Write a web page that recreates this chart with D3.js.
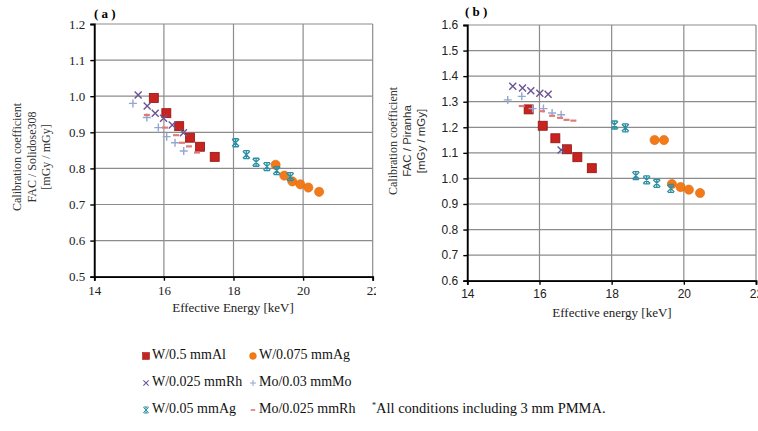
<!DOCTYPE html>
<html>
<head>
<meta charset="utf-8">
<script src="https://cdn.jsdelivr.net/npm/d3@7"></script>
<style>
  body { margin: 0; background: #fff; }
  svg { display: block; }
</style>
</head>
<body>
<div id="chart"></div>
<script>
// ---- data: [effective energy keV, calibration coefficient] ----
// panel (a): FAC / Solidose308
var alA   = [[15.71, 0.995], [16.07, 0.953], [16.44, 0.917], [16.75, 0.885], [17.04, 0.860], [17.46, 0.832]];
var agA   = [[19.21, 0.810], [19.46, 0.780], [19.69, 0.764], [19.92, 0.756], [20.15, 0.747], [20.46, 0.735]];
var rhA   = [[15.26, 1.003], [15.52, 0.973], [15.75, 0.953], [15.99, 0.939], [16.24, 0.920], [16.56, 0.899]];
var moA   = [[15.11, 0.980], [15.51, 0.941], [15.84, 0.913], [16.08, 0.888], [16.32, 0.871], [16.57, 0.848]];
var ag05A = [[18.06, 0.871], [18.37, 0.838], [18.65, 0.817], [18.96, 0.805], [19.24, 0.794], [19.63, 0.777]];
var moRhA = [[15.51, 0.948], [16.03, 0.913], [16.35, 0.892], [16.52, 0.871], [16.72, 0.861], [16.95, 0.844]];

// panel (b): FAC / Piranha
var alB   = [[15.70, 1.270], [16.09, 1.206], [16.44, 1.157], [16.76, 1.114], [17.05, 1.083], [17.45, 1.040]];
var agB   = [[19.19, 1.150], [19.45, 1.150], [19.67, 0.978], [19.91, 0.966], [20.14, 0.956], [20.45, 0.943]];
var rhB   = [[15.26, 1.360], [15.53, 1.354], [15.76, 1.343], [16.01, 1.333], [16.24, 1.329], [16.60, 1.111]];
var moB   = [[15.12, 1.307], [15.51, 1.321], [15.81, 1.273], [16.11, 1.273], [16.35, 1.256], [16.60, 1.249]];
var ag05B = [[18.08, 1.209], [18.38, 1.198], [18.67, 1.011], [18.97, 0.994], [19.25, 0.981], [19.64, 0.961]];
var moRhB = [[15.51, 1.283], [16.07, 1.263], [16.35, 1.245], [16.57, 1.237], [16.75, 1.229], [16.94, 1.226]];

var xTicks  = [14, 16, 18, 20, 22];
var yTicksA = [0.5, 0.6, 0.7, 0.8, 0.9, 1.0, 1.1, 1.2];
var yTicksB = [0.6, 0.7, 0.8, 0.9, 1.0, 1.1, 1.2, 1.3, 1.4, 1.5, 1.6];

var legendNames = ["W/0.5 mmAl", "W/0.075 mmAg", "W/0.025 mmRh", "Mo/0.03 mmMo", "W/0.05 mmAg", "Mo/0.025 mmRh"];
var seriesKeys  = ["al", "ag", "rh", "mo", "ag05", "moRh"];

var serif = "'Liberation Serif', 'DejaVu Serif', serif";
var sans = "'Liberation Sans', Arial, sans-serif";

var svg = d3.select("#chart").append("svg")
  .attr("width", 758).attr("height", 431);

var defs = svg.append("defs");
defs.append("clipPath").attr("id", "clipA")
  .append("rect").attr("x", 0).attr("y", 0).attr("width", 376).attr("height", 431);

// marker drawing, one per series type
function drawMarker(g, key, x, y) {
  if (key === "al") {
    g.append("rect").attr("x", x - 4.5).attr("y", y - 4.5).attr("width", 9).attr("height", 9)
      .attr("fill", "#c8231f").attr("stroke", "#8e1512").attr("stroke-width", 0.8);
  } else if (key === "ag") {
    g.append("circle").attr("cx", x).attr("cy", y).attr("r", 4.6)
      .attr("fill", "#f27a18").attr("stroke", "#e06a0c").attr("stroke-width", 0.6);
  } else if (key === "rh") {
    g.append("path").attr("d", "M" + (x - 3.5) + "," + (y - 3.5) + "L" + (x + 3.5) + "," + (y + 3.5) +
      "M" + (x - 3.5) + "," + (y + 3.5) + "L" + (x + 3.5) + "," + (y - 3.5))
      .attr("stroke", "#6a5494").attr("stroke-width", 1.4).attr("fill", "none");
  } else if (key === "mo") {
    g.append("path").attr("d", "M" + (x - 4) + "," + y + "L" + (x + 4) + "," + y +
      "M" + x + "," + (y - 4) + "L" + x + "," + (y + 4))
      .attr("stroke", "#92a8d0").attr("stroke-width", 1.4).attr("fill", "none");
  } else if (key === "ag05") {
    g.append("path").attr("d", "M" + (x - 3.5) + "," + (y - 3.5) + "L" + (x + 3.5) + "," + (y + 3.5) +
      "M" + (x - 3.5) + "," + (y + 3.5) + "L" + (x + 3.5) + "," + (y - 3.5) +
      "M" + x + "," + (y - 4) + "L" + x + "," + (y + 4) +
      "M" + (x - 3) + "," + (y - 4) + "L" + (x + 3) + "," + (y - 4) +
      "M" + (x - 3) + "," + (y + 4) + "L" + (x + 3) + "," + (y + 4))
      .attr("stroke", "#2a8fa3").attr("stroke-width", 1.3).attr("fill", "none");
  } else if (key === "moRh") {
    g.append("path").attr("d", "M" + (x - 3) + "," + y + "L" + (x + 3) + "," + y)
      .attr("stroke", "#e07a7a").attr("stroke-width", 2.2).attr("fill", "none");
  }
}

function drawPanel(opt) {
  var g = svg.append("g");
  if (opt.clip) g.attr("clip-path", "url(#" + opt.clip + ")");

  var x = d3.scaleLinear().domain([14, 22]).range(opt.xRange);
  var y = d3.scaleLinear().domain(opt.yDomain).range(opt.yRange);

  // gridlines
  g.append("g").selectAll("line").data(opt.yTicks).enter().append("line")
    .attr("x1", x(14)).attr("x2", x(22))
    .attr("y1", function(d) { return y(d); }).attr("y2", function(d) { return y(d); })
    .attr("stroke", "#8c8c8c").attr("stroke-width", 1.2);
  g.append("g").selectAll("line").data(xTicks).enter().append("line")
    .attr("x1", function(d) { return x(d); }).attr("x2", function(d) { return x(d); })
    .attr("y1", y(opt.yDomain[0])).attr("y2", y(opt.yDomain[1]))
    .attr("stroke", "#8c8c8c").attr("stroke-width", 1.2);

  // axes
  var yAxis = g.append("g").attr("transform", "translate(" + x(14) + ",0)")
    .call(d3.axisLeft(y).tickValues(opt.yTicks).tickSize(4).tickPadding(5).tickFormat(d3.format(".1f")));
  var xAxis = g.append("g").attr("transform", "translate(0," + y(opt.yDomain[0]) + ")")
    .call(d3.axisBottom(x).tickValues(xTicks).tickSize(4).tickPadding(5).tickFormat(d3.format("d")));
  [yAxis, xAxis].forEach(function(a) {
    a.select(".domain").attr("stroke", "#000").attr("stroke-width", 1.8);
    a.selectAll(".tick line").attr("stroke", "#000").attr("stroke-width", 1.4);
    a.selectAll(".tick text").attr("fill", "#222")
      .style("font-family", opt.tickFont).style("font-size", opt.tickSize + "px");
  });

  // points
  var pts = g.append("g");
  seriesKeys.forEach(function(k) {
    opt.data[k].forEach(function(d) {
      drawMarker(pts, k, x(d[0]), y(d[1]));
    });
  });

  // x title
  g.append("text").attr("x", opt.xTitlePos[0]).attr("y", opt.xTitlePos[1])
    .attr("text-anchor", "middle").attr("dominant-baseline", "middle")
    .style("font-family", serif).style("font-size", "13px").attr("fill", "#222")
    .text(opt.xTitle);

  // y title, three rotated lines
  opt.yTitle.forEach(function(t, i) {
    g.append("text")
      .attr("transform", "translate(" + opt.yTitleX[i] + "," + opt.yTitleY + ") rotate(-90)")
      .attr("text-anchor", "middle").attr("dominant-baseline", "middle")
      .style("font-family", t.font).style("font-size", t.size + "px").attr("fill", "#333")
      .text(t.text);
  });

  // panel label
  g.append("text").attr("x", opt.labelPos[0]).attr("y", opt.labelPos[1])
    .attr("dominant-baseline", "middle")
    .style("font-family", serif).style("font-size", "13px").style("font-weight", "bold")
    .text(opt.label);
}

drawPanel({
  clip: "clipA",
  xRange: [94.3, 372.7], yDomain: [0.5, 1.2], yRange: [276.7, 24],
  yTicks: yTicksA, tickFont: serif, tickSize: 13,
  data: { al: alA, ag: agA, rh: rhA, mo: moA, ag05: ag05A, moRh: moRhA },
  xTitle: "Effective Energy [keV]", xTitlePos: [233, 309],
  yTitle: [
    { text: "Calibration coefficient", font: serif, size: 12 },
    { text: "FAC / Solidose308", font: serif, size: 12 },
    { text: "[mGy / mGy]", font: serif, size: 12 }
  ],
  yTitleX: [18, 33, 47], yTitleY: 157,
  label: "( a )", labelPos: [94, 15]
});

drawPanel({
  xRange: [467.3, 756], yDomain: [0.6, 1.6], yRange: [280.7, 25],
  yTicks: yTicksB, tickFont: sans, tickSize: 12,
  data: { al: alB, ag: agB, rh: rhB, mo: moB, ag05: ag05B, moRh: moRhB },
  xTitle: "Effective energy [keV]", xTitlePos: [612, 314],
  yTitle: [
    { text: "Calibration coefficient", font: serif, size: 12 },
    { text: "FAC / Piranha", font: sans, size: 11.5 },
    { text: "[mGy / mGy]", font: sans, size: 11.5 }
  ],
  yTitleX: [394, 408, 422], yTitleY: 141,
  label: "( b )", labelPos: [465, 13]
});

// ---- legend ----
var legend = svg.append("g");
var legX = [146, 253];
var legY = [356, 383, 410];
legendNames.forEach(function(name, i) {
  var cx = legX[i % 2], cy = legY[Math.floor(i / 2)];
  var item = legend.append("g");
  var k = seriesKeys[i];
  // legend markers are drawn smaller than in the plot
  var m = item.append("g").attr("transform", "translate(" + cx + "," + cy + ") scale(0.75) translate(" + (-cx) + "," + (-cy) + ")");
  drawMarker(m, k, cx, cy);
  item.append("text").attr("x", cx + 6).attr("y", cy)
    .attr("dominant-baseline", "middle")
    .style("font-family", serif).style("font-size", "14px").attr("fill", "#111")
    .text(name);
});

var note = legend.append("text").attr("x", 372).attr("y", legY[2])
  .attr("dominant-baseline", "middle")
  .style("font-family", serif).style("font-size", "14.5px").attr("fill", "#111");
note.append("tspan").attr("font-size", "8px").attr("dy", -4).text("*");
note.append("tspan").attr("dy", 4).text("All conditions including 3 mm PMMA.");
</script>
</body>
</html>
